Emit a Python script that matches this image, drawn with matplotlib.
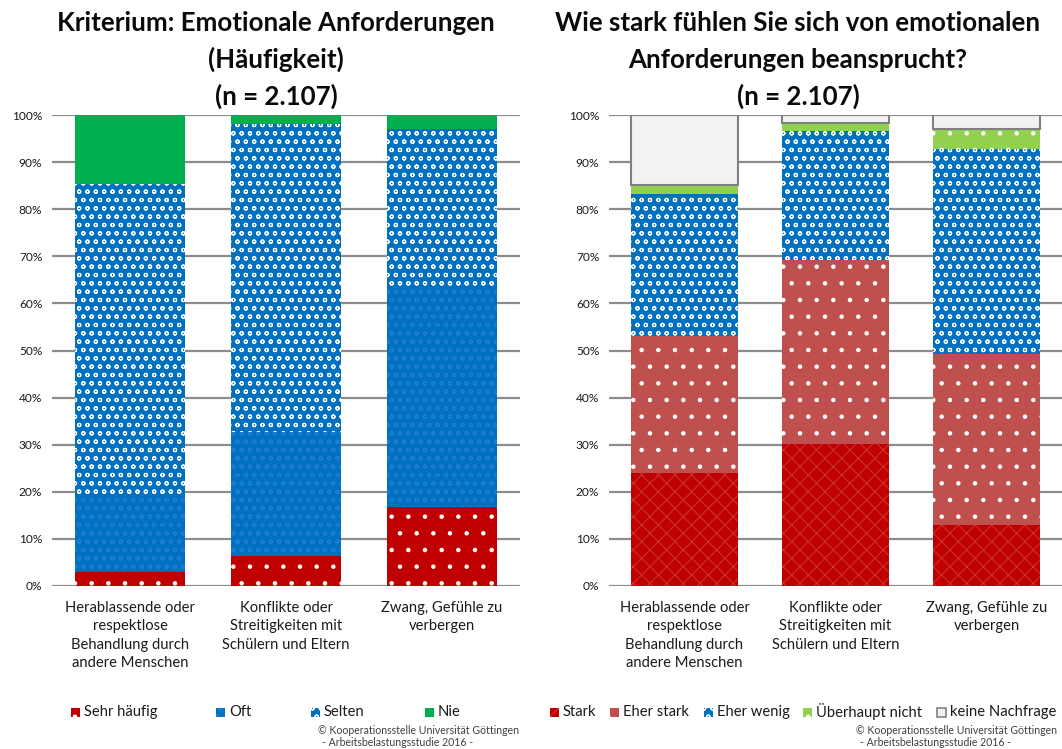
import matplotlib
matplotlib.use("Agg")
import matplotlib.pyplot as plt
from matplotlib.patches import Rectangle
from matplotlib.ticker import FuncFormatter, MultipleLocator

W, H = 1062, 749

CATEGORIES = [
    "Herablassende oder\nrespektlose\nBehandlung durch\nandere Menschen",
    "Konflikte oder\nStreitigkeiten mit\nSchülern und Eltern",
    "Zwang, Gefühle zu\nverbergen",
]

# left: Häufigkeit (percent, bottom to top)
FREQ_LABELS = ["Sehr häufig", "Oft", "Selten", "Nie"]
SEHR_HAEUFIG = [3.0, 6.4, 16.8]
OFT = [16.5, 26.3, 46.9]
SELTEN = [65.8, 65.4, 33.3]
NIE = [14.7, 1.9, 3.0]

# right: Beanspruchung (percent, bottom to top)
STRAIN_LABELS = ["Stark", "Eher stark", "Eher wenig", "Überhaupt nicht", "keine Nachfrage"]
STARK = [23.9, 30.1, 12.8]
EHER_STARK = [29.2, 39.1, 36.5]
EHER_WENIG = [30.1, 27.5, 43.5]
UEBERHAUPT_NICHT = [2.0, 1.6, 4.2]
KEINE_NACHFRAGE = [14.8, 1.7, 3.0]

FREQ_STYLE = [
    dict(facecolor="#C00000", edgecolor="white", hatch="."),
    dict(facecolor="#0070C0", edgecolor="#1f7ed2", hatch="oo"),
    dict(facecolor="#0070C0", edgecolor="white", hatch="oo"),
    dict(facecolor="#00B050", edgecolor="#00B050", hatch=None),
]
STRAIN_STYLE = [
    dict(facecolor="#C00000", edgecolor="#cf3030", hatch="xx"),
    dict(facecolor="#C0504D", edgecolor="white", hatch="."),
    dict(facecolor="#0070C0", edgecolor="white", hatch="oo"),
    dict(facecolor="#92D050", edgecolor="white", hatch="."),
    dict(facecolor="#F2F2F2", edgecolor="#808080", hatch=None),
]

FONT = "Lato"
plt.rcParams.update({"font.family": FONT, "hatch.linewidth": 0.8})

fig = plt.figure(figsize=(W / 100, H / 100), dpi=100)


def fx(x):
    return x / W


def fy(y):
    return 1 - y / H


def stacked(ax, series, styles):
    xs = range(len(CATEGORIES))
    bottom = [0.0] * len(CATEGORIES)
    for vals, st in zip(series, styles):
        lw = 1.5 if st["facecolor"] == "#F2F2F2" else 0
        ax.bar(xs, vals, bottom=bottom, width=0.71, linewidth=lw, zorder=2, **st)
        bottom = [b + v for b, v in zip(bottom, vals)]
    ax.set_xlim(-0.5, 2.5)
    ax.set_ylim(0, 100)
    ax.yaxis.set_major_locator(MultipleLocator(10))
    ax.yaxis.set_major_formatter(FuncFormatter(lambda v, _: f"{v:.0f}%"))
    ax.grid(axis="y", color="#8c8c8c", linewidth=1.6, zorder=0)
    ax.set_axisbelow(True)
    for s in ax.spines.values():
        s.set_visible(False)
    ax.tick_params(axis="y", length=0, pad=7, labelsize=8.6, colors="#1a1a1a")
    ax.tick_params(axis="x", length=0, pad=11, labelsize=10.6, colors="#1a1a1a")
    ax.set_xticks(list(xs))
    ax.set_xticklabels(CATEGORIES, linespacing=1.4)


ax1 = fig.add_axes([fx(52), fy(585.7), fx(520 - 52), (585.7 - 115.3) / H])
stacked(ax1, [SEHR_HAEUFIG, OFT, SELTEN, NIE], FREQ_STYLE)
ax2 = fig.add_axes([fx(609), fy(585.7), fx(1062 - 609), (585.7 - 115.3) / H])
stacked(ax2, [STARK, EHER_STARK, EHER_WENIG, UEBERHAUPT_NICHT, KEINE_NACHFRAGE], STRAIN_STYLE)

title_kw = dict(ha="center", va="center", fontsize=18.6, fontweight="bold", color="#0a0a0a")
for i, line in enumerate(["Kriterium: Emotionale Anforderungen", "(Häufigkeit)", "(n = 2.107)"]):
    fig.text(fx(276), fy(23 + 36.5 * i), line, **title_kw)
for i, line in enumerate(["Wie stark fühlen Sie sich von emotionalen",
                          "Anforderungen beansprucht?", "(n = 2.107)"]):
    fig.text(fx(798), fy(23 + 36.5 * i), line, **title_kw)


def legend_item(x, label, st):
    lw = 1.2 if st["facecolor"] == "#F2F2F2" else 0
    fig.add_artist(Rectangle((fx(x), fy(717)), fx(9), 9 / H, transform=fig.transFigure,
                             linewidth=lw, **st))
    fig.text(fx(x + 13), fy(712), label, ha="left", va="center", fontsize=10.6, color="#1a1a1a")


for x, lab, st in zip([71, 216, 311, 425], FREQ_LABELS, FREQ_STYLE):
    legend_item(x, lab, st)
for x, lab, st in zip([550, 610, 704, 803, 937], STRAIN_LABELS, STRAIN_STYLE):
    legend_item(x, lab, st)

for x0 in (318, 856):
    fig.text(fx(x0), fy(731), "© Kooperationsstelle Universität Göttingen",
             fontsize=7.6, color="#404040", ha="left", va="center")
    fig.text(fx(x0 + 4), fy(743), "- Arbeitsbelastungsstudie 2016 -",
             fontsize=7.6, color="#404040", ha="left", va="center")

fig.savefig("out.png", dpi=100, facecolor="white")
